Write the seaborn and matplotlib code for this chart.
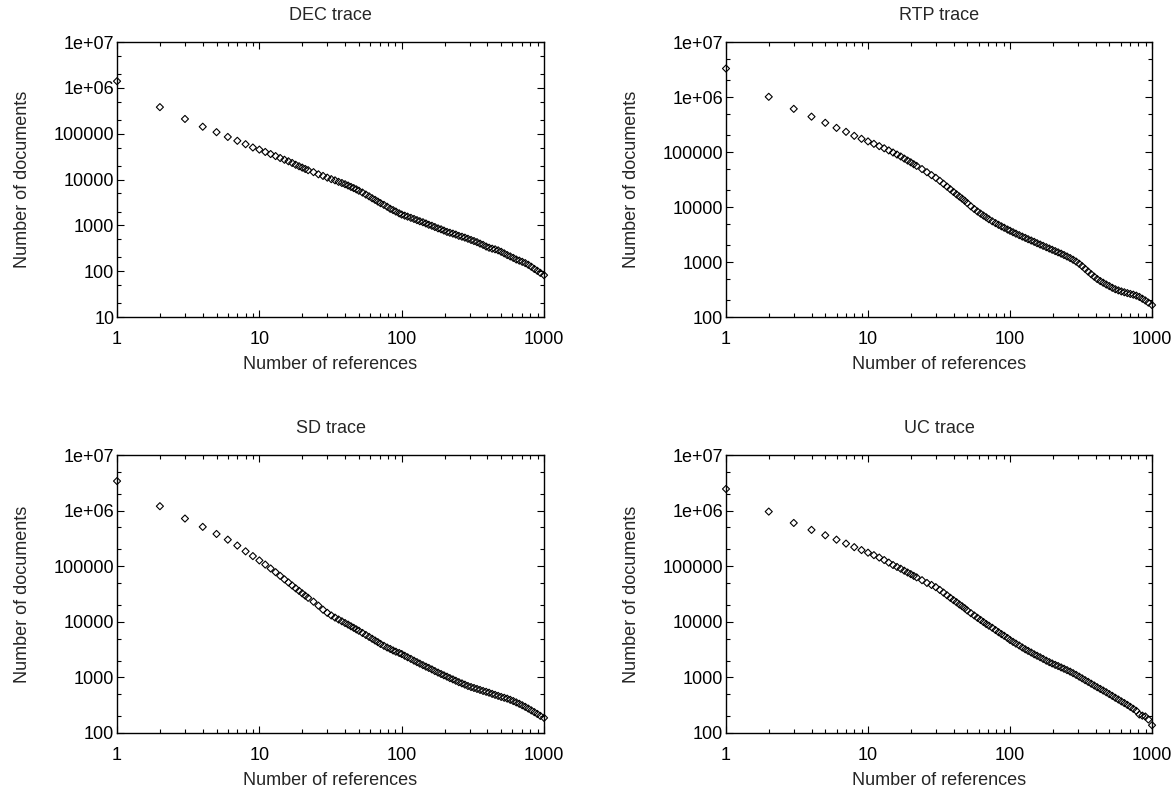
# Number of documents vs number of references, four traces (log-log)

import pandas as pd
import matplotlib
matplotlib.use('Agg')
import matplotlib.pyplot as plt
import matplotlib.ticker as mticker
import seaborn as sns

# rank (number of references) of every plotted point
ranks = [1, 2, 3, 4, 5, 6, 7, 8, 9, 10, 11, 12, 13, 14, 15, 16, 17, 18, 19, 20, 21,
         22, 24, 26, 28, 30, 32, 34, 36, 38,
         40, 42, 44, 46, 48, 50, 53, 56, 59, 62, 65, 68, 71, 75, 79, 83, 87, 91, 96, 100,
         105, 110, 116, 122, 128, 134, 141, 148, 155, 163, 171, 180, 189, 198, 208,
         218, 229, 240, 252, 265, 278, 292, 307, 322, 338, 355, 373, 392, 411, 432,
         453, 476, 500, 525, 551, 579, 608, 638, 670, 703, 738, 775, 814, 855, 897,
         942, 1000]

dec_docs = [1.4e6, 3.8e5, 2.1e5, 1.42e5, 1.08e5, 8.5e4, 7.0e4, 5.9e4, 5.0e4, 4.5e4, 4.0e4,
            3.6e4, 3.25e4, 2.95e4, 2.7e4, 2.5e4, 2.3e4, 2.1e4, 1.95e4, 1.82e4, 1.7e4,
            1.6e4, 1.45e4, 1.3e4, 1.2e4, 1.1e4, 1.02e4, 9600, 8900, 8400,
            7900, 7400, 6900, 6500, 6100, 5700, 5200, 4700, 4300, 3900, 3600, 3300, 3050,
            2800, 2550, 2300, 2150, 2000, 1830, 1720, 1630, 1550, 1460, 1380, 1300, 1230,
            1170, 1100, 1030, 980, 920, 860, 820, 770, 720, 690, 660, 630, 590, 565, 540,
            510, 480, 455, 430, 400, 375, 345, 325, 310, 300, 285, 265, 245, 225, 210, 195,
            180, 170, 160, 150, 138, 125, 112, 102, 92, 82]

rtp_docs = [3.3e6, 1.01e6, 6.1e5, 4.4e5, 3.4e5, 2.75e5, 2.33e5, 1.97e5, 1.74e5, 1.56e5, 1.41e5,
            1.28e5, 1.17e5, 1.07e5, 9.8e4, 9.0e4, 8.3e4, 7.6e4, 7.0e4, 6.5e4, 6.0e4,
            5.6e4, 4.9e4, 4.3e4, 3.8e4, 3.4e4, 3.0e4, 2.65e4, 2.35e4, 2.1e4,
            1.88e4, 1.7e4, 1.55e4, 1.42e4, 1.3e4, 1.18e4, 1.03e4, 9200, 8300, 7600, 7000,
            6500, 6000, 5500, 5100, 4750, 4450, 4200, 3900, 3700, 3480, 3280, 3080, 2900,
            2750, 2600, 2460, 2330, 2200, 2080, 1970, 1860, 1760, 1670, 1580, 1500, 1420,
            1340, 1260, 1180, 1100, 1020, 930, 840, 750, 670, 600, 540, 490, 450, 420, 390,
            365, 340, 320, 305, 292, 282, 272, 263, 255, 245, 232, 215, 200, 183, 165]

sd_docs = [3.4e6, 1.2e6, 7.2e5, 5.1e5, 3.8e5, 3.0e5, 2.35e5, 1.85e5, 1.52e5, 1.27e5, 1.07e5,
           9.1e4, 7.8e4, 6.7e4, 5.8e4, 5.1e4, 4.5e4, 4.0e4, 3.6e4, 3.25e4, 2.95e4,
           2.7e4, 2.3e4, 1.95e4, 1.65e4, 1.45e4, 1.3e4, 1.19e4, 1.1e4, 1.02e4,
           9500, 8900, 8300, 7800, 7300, 6900, 6300, 5800, 5350, 4950, 4600, 4300, 4000,
           3700, 3450, 3250, 3050, 2900, 2750, 2630, 2450, 2300, 2150, 2000, 1880, 1770,
           1660, 1560, 1480, 1390, 1300, 1220, 1150, 1090, 1030, 970, 920, 870, 820, 780,
           740, 700, 670, 645, 620, 595, 570, 550, 530, 505, 485, 465, 445, 430, 415, 395,
           375, 355, 335, 315, 295, 275, 255, 237, 220, 203, 187]

uc_docs = [2.45e6, 9.6e5, 6.0e5, 4.5e5, 3.6e5, 3.0e5, 2.55e5, 2.2e5, 1.95e5, 1.75e5, 1.58e5,
           1.43e5, 1.29e5, 1.16e5, 1.05e5, 9.7e4, 9.0e4, 8.3e4, 7.7e4, 7.2e4, 6.7e4,
           6.3e4, 5.6e4, 5.0e4, 4.6e4, 4.2e4, 3.75e4, 3.35e4, 3.0e4, 2.7e4,
           2.45e4, 2.25e4, 2.05e4, 1.9e4, 1.75e4, 1.6e4, 1.43e4, 1.3e4, 1.18e4, 1.08e4,
           9900, 9100, 8500, 7800, 7100, 6500, 6000, 5600, 5100, 4700, 4350, 4050, 3750,
           3450, 3200, 3000, 2800, 2600, 2450, 2300, 2150, 2000, 1880, 1780, 1680, 1600,
           1510, 1430, 1350, 1270, 1190, 1110, 1030, 960, 890, 830, 770, 715, 665, 620,
           580, 540, 500, 465, 430, 400, 370, 345, 320, 295, 272, 250, 215, 205, 198, 175,
           138]

titles = ['DEC trace', 'RTP trace', 'SD trace', 'UC trace']
series = [dec_docs, rtp_docs, sd_docs, uc_docs]
y_bottoms = [10, 100, 100, 100]

sns.set_theme(style='ticks')
plt.rcParams['font.family'] = ['Liberation Sans', 'DejaVu Sans']
plt.rcParams['font.size'] = 13

fig = plt.figure(figsize=(11.74, 7.89), dpi=100)

# axes boxes (left, bottom, width, height) in figure fractions
boxes = [
    [0.0997, 0.5982, 0.3637, 0.3485],
    [0.6184, 0.5982, 0.3629, 0.3485],
    [0.0997, 0.0710, 0.3637, 0.3523],
    [0.6184, 0.0710, 0.3629, 0.3523],
]


def ylab(v, pos):
    if v >= 1e7:
        return '1e+07'
    if v >= 1e6:
        return '1e+06'
    return '%d' % round(v)


for box, title, docs, ybot in zip(boxes, titles, series, y_bottoms):
    ax = fig.add_axes(box)
    df = pd.DataFrame({'refs': ranks, 'docs': docs})
    sns.scatterplot(data=df, x='refs', y='docs', ax=ax, marker='D', s=13,
                    facecolor='none', edgecolor='black', linewidth=0.8, clip_on=False)
    ax.set_xscale('log')
    ax.set_yscale('log')
    ax.set_xlim(1, 1000)
    ax.set_ylim(ybot, 1e7)

    ax.xaxis.set_major_locator(mticker.FixedLocator([1, 10, 100, 1000]))
    ax.xaxis.set_major_formatter(mticker.FixedFormatter(['1', '10', '100', '1000']))
    ax.xaxis.set_minor_locator(mticker.LogLocator(base=10, subs=[2, 3, 4, 5, 6, 7, 8, 9]))
    ax.xaxis.set_minor_formatter(mticker.NullFormatter())

    yt = [v for v in [10, 100, 1000, 10000, 100000, 1e6, 1e7] if v >= ybot]
    ax.yaxis.set_major_locator(mticker.FixedLocator(yt))
    ax.yaxis.set_major_formatter(mticker.FuncFormatter(ylab))
    ax.yaxis.set_minor_locator(mticker.LogLocator(base=10, subs=[2, 5]))
    ax.yaxis.set_minor_formatter(mticker.NullFormatter())

    ax.tick_params(which='both', direction='in', top=True, right=True, colors='black',
                   labelsize=13)
    ax.tick_params(which='major', length=5, width=0.8)
    ax.tick_params(which='minor', length=2.8, width=0.8)
    ax.tick_params(axis='x', which='major', pad=10)
    ax.tick_params(axis='y', which='major', pad=2)
    for sp in ax.spines.values():
        sp.set_linewidth(1.0)
        sp.set_color('black')

    ax.set_title(title, fontsize=13, pad=16)
    ax.set_xlabel('Number of references', fontsize=13, labelpad=6)
    ax.set_ylabel('Number of documents', fontsize=13, labelpad=16)

fig.savefig('out.png', dpi=100, facecolor='white')
